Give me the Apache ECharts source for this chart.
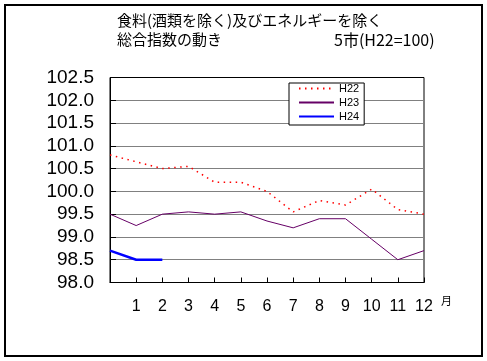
<!DOCTYPE html>
<html>
<head>
<meta charset="utf-8">
<script src="https://cdn.jsdelivr.net/npm/echarts@6/dist/echarts.min.js"></script>
<style>
html,body{margin:0;padding:0;background:#fff;}
#c{width:487px;height:361px;}
</style>
</head>
<body>
<div id="c"></div>
<script>
// x positions: 0 = previous December, 1..12 = months
var months = [0,1,2,3,4,5,6,7,8,9,10,11,12];
var xTickLabels = ['', '1','2','3','4','5','6','7','8','9','10','11','12'];
var seriesNames = ['H22', 'H23', 'H24'];
var h22 = [100.8, 100.65, 100.5, 100.55, 100.2, 100.2, 100.0, 99.55, 99.8, 99.7, 100.05, 99.6, 99.5];
var h23 = [99.5, 99.25, 99.5, 99.55, 99.5, 99.55, 99.35, 99.2, 99.4, 99.4, 98.95, 98.5, 98.7];
var h24 = [98.7, 98.5, 98.5];
var titleLine1 = '食料(酒類を除く)及びエネルギーを除く';
var titleLine2 = '総合指数の動き';
var titleNote = '5市(H22=100)';
var unitLabel = '月';

function pairs(vals){ return vals.map(function(v,i){ return [months[i], v]; }); }

var chart = echarts.init(document.getElementById('c'), null, {renderer:'canvas'});
var jp = '"Noto Sans CJK JP", sans-serif';
var num = '"Liberation Sans", Arial, sans-serif';
chart.setOption({
  backgroundColor:'#fff',
  animation:false,
  graphic:[
    {type:'rect', shape:{x:5, y:5, width:477, height:351}, style:{fill:null, stroke:'#000', lineWidth:2}, silent:true},
    {type:'text', left:117, top:13, style:{text:titleLine1, font:'15px '+jp, fill:'#000'}},
    {type:'text', left:117, top:32, style:{text:titleLine2, font:'15px '+jp, fill:'#000'}},
    {type:'text', left:334, top:32, style:{text:titleNote, font:'16px '+jp, fill:'#000'}},
    {type:'text', left:441, top:295, style:{text:unitLabel, font:'11px '+jp, fill:'#000'}}
  ],
  grid:{left:110, top:77.5, right:63, bottom:78.5, show:true, borderColor:'#000', borderWidth:1, backgroundColor:'transparent'},
  legend:{
    data:seriesNames, orient:'vertical', left:289, top:83,
    itemWidth:35, itemHeight:12, itemGap:3, padding:[0,5,3,9],
    backgroundColor:'#fff', borderColor:'#000', borderWidth:1,
    itemStyle:{opacity:0},
    textStyle:{fontFamily:num, fontSize:11, color:'#000'},
    selectedMode:false
  },
  xAxis:{
    type:'value', min:0, max:12, interval:1,
    axisLine:{lineStyle:{color:'#000', width:1}},
    axisTick:{inside:true, length:5, lineStyle:{color:'#000'}},
    axisLabel:{margin:16, color:'#000', fontFamily:num, fontSize:16,
      formatter:function(v){ return xTickLabels[Math.round(v)]; }},
    splitLine:{show:false}
  },
  yAxis:{
    type:'value', min:98, max:102.5, interval:0.5,
    axisLine:{show:true, lineStyle:{color:'#000', width:1}},
    axisTick:{show:true, inside:true, length:6, lineStyle:{color:'#000'}},
    axisLabel:{margin:16, color:'#000', fontFamily:num, fontSize:19,
      formatter:function(v){ return v.toFixed(1); }},
    splitLine:{show:true, showMinLine:false, showMaxLine:false, lineStyle:{color:'#808080', width:1}}
  },
  series:[
    {name:'H22', type:'line', data:pairs(h22), symbol:'none', lineStyle:{color:'#ff0000', width:1.5, type:[1.5,4.5]}, itemStyle:{color:'#ff0000'}},
    {name:'H23', type:'line', data:pairs(h23), symbol:'none', lineStyle:{color:'#660066', width:1}, itemStyle:{color:'#660066'}},
    {name:'H24', type:'line', data:pairs(h24), symbol:'none', lineStyle:{color:'#0000ff', width:2.5}, itemStyle:{color:'#0000ff'}}
  ]
});
</script>
</body>
</html>
